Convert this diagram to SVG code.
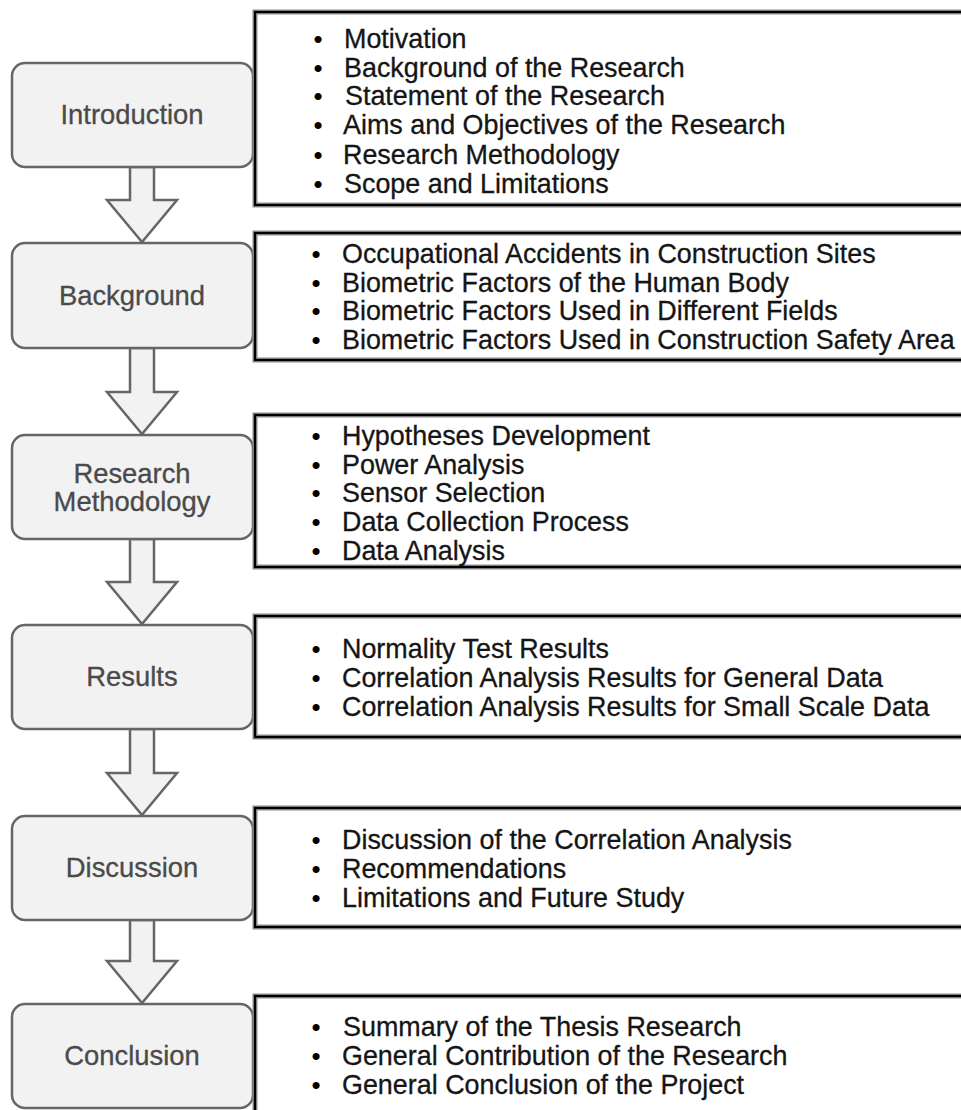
<svg xmlns="http://www.w3.org/2000/svg" width="961" height="1110" viewBox="0 0 961 1110">
  <style>
    .stage { fill: #f2f2f2; stroke: #666666; stroke-width: 2.5; }
    .stage-label { font-family: "Liberation Sans", Arial, sans-serif; font-size: 27.4px; fill: #4a4a4a; stroke: #4a4a4a; stroke-width: 0.3; text-anchor: middle; }
    .panel-halo { fill: #ffffff; stroke: #8c8c8c; stroke-width: 5; }
    .panel-edge { fill: none; stroke: #000000; stroke-width: 2.2; }
    .item { font-family: "Liberation Sans", Arial, sans-serif; font-size: 26.9px; fill: #151515; stroke: #151515; stroke-width: 0.3; }
    .dot { font-family: "Liberation Sans", Arial, sans-serif; font-size: 26px; fill: #000000; text-anchor: middle; }
    .flow { fill: #f2f2f2; stroke: #666666; stroke-width: 2.5; stroke-linejoin: miter; }
  </style>

  <!-- block arrows between stages -->
  <g id="connectors">
    <polygon class="flow" points="130,167 154,167 154,200 177,200 142,242 107,200 130,200"/>
    <polygon class="flow" points="130,348 154,348 154,392 177,392 142,434 107,392 130,392"/>
    <polygon class="flow" points="130,539 154,539 154,582 177,582 142,624 107,582 130,582"/>
    <polygon class="flow" points="130,729 154,729 154,773 177,773 142,815 107,773 130,773"/>
    <polygon class="flow" points="130,920 154,920 154,961 177,961 142,1003 107,961 130,961"/>
  </g>

  <!-- Introduction -->
  <g id="introduction">
    <rect class="stage" x="12" y="63" width="241" height="104" rx="13"/>
    <text class="stage-label" x="132" y="124">Introduction</text>
  </g>
  <g id="introduction-topics">
    <rect class="panel-halo" x="255" y="12" width="720" height="193"/>
    <rect class="panel-edge" x="255" y="12" width="720" height="193"/>
    <text class="dot" x="318" y="48">•</text><text class="item" x="344" y="48">Motivation</text>
    <text class="dot" x="318" y="77">•</text><text class="item" x="344" y="77">Background of the Research</text>
    <text class="dot" x="318" y="105">•</text><text class="item" x="345" y="105">Statement of the Research</text>
    <text class="dot" x="318" y="134">•</text><text class="item" x="343" y="134">Aims and Objectives of the Research</text>
    <text class="dot" x="318" y="164">•</text><text class="item" x="343" y="164">Research Methodology</text>
    <text class="dot" x="318" y="193">•</text><text class="item" x="344" y="193">Scope and Limitations</text>
  </g>

  <!-- Background -->
  <g id="background">
    <rect class="stage" x="12" y="243" width="241" height="105" rx="13"/>
    <text class="stage-label" x="132" y="305">Background</text>
  </g>
  <g id="background-topics">
    <rect class="panel-halo" x="255" y="233" width="720" height="127"/>
    <rect class="panel-edge" x="255" y="233" width="720" height="127"/>
    <text class="dot" x="316" y="263">•</text><text class="item" x="342" y="263">Occupational Accidents in Construction Sites</text>
    <text class="dot" x="316" y="292">•</text><text class="item" x="342" y="292">Biometric Factors of the Human Body</text>
    <text class="dot" x="316" y="320">•</text><text class="item" x="342" y="320">Biometric Factors Used in Different Fields</text>
    <text class="dot" x="316" y="349">•</text><text class="item" x="342" y="349">Biometric Factors Used in Construction Safety Area</text>
  </g>

  <!-- Research Methodology -->
  <g id="research-methodology">
    <rect class="stage" x="12" y="435" width="241" height="104" rx="13"/>
    <text class="stage-label" x="132" y="483">Research</text>
    <text class="stage-label" x="132" y="511">Methodology</text>
  </g>
  <g id="research-methodology-topics">
    <rect class="panel-halo" x="255" y="415" width="720" height="152"/>
    <rect class="panel-edge" x="255" y="415" width="720" height="152"/>
    <text class="dot" x="316" y="445">•</text><text class="item" x="342" y="445">Hypotheses Development</text>
    <text class="dot" x="316" y="474">•</text><text class="item" x="342" y="474">Power Analysis</text>
    <text class="dot" x="316" y="502">•</text><text class="item" x="342" y="502">Sensor Selection</text>
    <text class="dot" x="316" y="531">•</text><text class="item" x="342" y="531">Data Collection Process</text>
    <text class="dot" x="316" y="560">•</text><text class="item" x="342" y="560">Data Analysis</text>
  </g>

  <!-- Results -->
  <g id="results">
    <rect class="stage" x="12" y="625" width="241" height="104" rx="13"/>
    <text class="stage-label" x="132" y="686">Results</text>
  </g>
  <g id="results-topics">
    <rect class="panel-halo" x="255" y="616" width="720" height="121"/>
    <rect class="panel-edge" x="255" y="616" width="720" height="121"/>
    <text class="dot" x="316" y="658">•</text><text class="item" x="342" y="658">Normality Test Results</text>
    <text class="dot" x="316" y="687">•</text><text class="item" x="342" y="687">Correlation Analysis Results for General Data</text>
    <text class="dot" x="316" y="716">•</text><text class="item" x="342" y="716">Correlation Analysis Results for Small Scale Data</text>
  </g>

  <!-- Discussion -->
  <g id="discussion">
    <rect class="stage" x="12" y="816" width="241" height="104" rx="13"/>
    <text class="stage-label" x="132" y="877">Discussion</text>
  </g>
  <g id="discussion-topics">
    <rect class="panel-halo" x="255" y="808" width="720" height="119"/>
    <rect class="panel-edge" x="255" y="808" width="720" height="119"/>
    <text class="dot" x="316" y="849">•</text><text class="item" x="342" y="849">Discussion of the Correlation Analysis</text>
    <text class="dot" x="316" y="878">•</text><text class="item" x="342" y="878">Recommendations</text>
    <text class="dot" x="316" y="907">•</text><text class="item" x="342" y="907">Limitations and Future Study</text>
  </g>

  <!-- Conclusion -->
  <g id="conclusion">
    <rect class="stage" x="12" y="1004" width="241" height="104" rx="13"/>
    <text class="stage-label" x="132" y="1065">Conclusion</text>
  </g>
  <g id="conclusion-topics">
    <rect class="panel-halo" x="255" y="996" width="720" height="140"/>
    <rect class="panel-edge" x="255" y="996" width="720" height="140"/>
    <text class="dot" x="316" y="1036">•</text><text class="item" x="343" y="1036">Summary of the Thesis Research</text>
    <text class="dot" x="316" y="1065">•</text><text class="item" x="342" y="1065">General Contribution of the Research</text>
    <text class="dot" x="316" y="1094">•</text><text class="item" x="342" y="1094">General Conclusion of the Project</text>
  </g>
</svg>
